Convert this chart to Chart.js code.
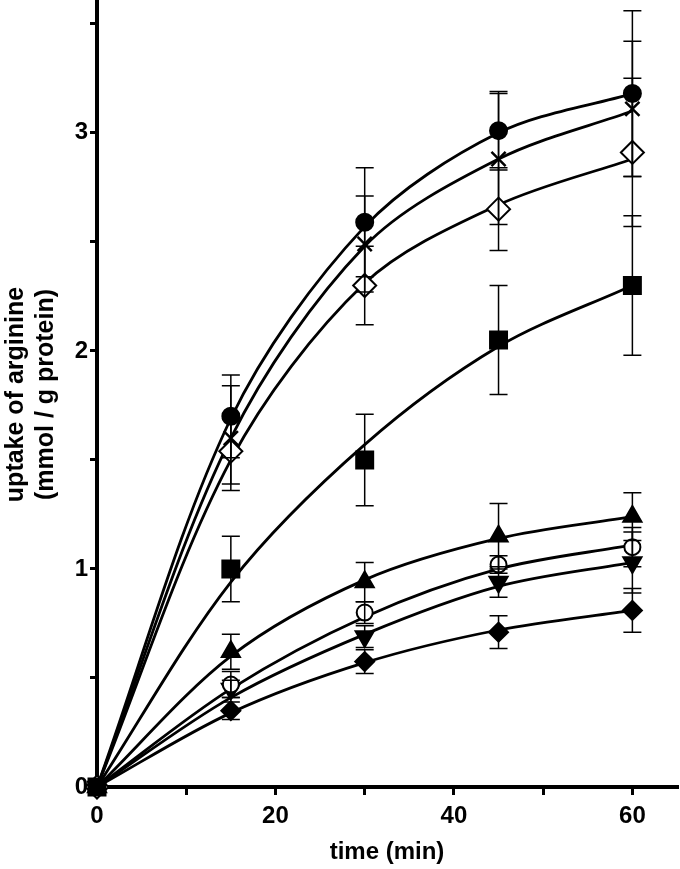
<!DOCTYPE html>
<html>
<head>
<meta charset="utf-8">
<script src="https://cdn.jsdelivr.net/npm/chart.js"></script>
<style>
  html, body { margin: 0; padding: 0; background: #fff; }
  canvas { display: block; }
</style>
</head>
<body>
<canvas id="uptakeChart" width="680" height="869"></canvas>
<script>
// time points (min)
const timeMin = [0, 15, 30, 45, 60];

const filledCircle = [0, 1.70, 2.59, 3.01, 3.18];
const filledCircleErr = [0, 0.19, 0.25, 0.18, 0.38];
const cross = [0, 1.60, 2.49, 2.88, 3.11];
const crossErr = [0, 0.24, 0.22, 0.30, 0.31];
const openDiamond = [0, 1.54, 2.30, 2.65, 2.91];
const openDiamondErr = [0, 0.15, 0.18, 0.19, 0.34];
const filledSquare = [0, 1.00, 1.50, 2.05, 2.30];
const filledSquareErr = [0, 0.15, 0.21, 0.25, 0.32];
const filledTriangle = [0, 0.62, 0.94, 1.15, 1.24];
const filledTriangleErr = [0, 0.08, 0.09, 0.15, 0.11];
const openCircle = [0, 0.47, 0.80, 1.02, 1.10];
const openCircleErr = [0, 0.06, 0.05, 0.04, 0.09];
const triangleDown = [0, 0.45, 0.69, 0.94, 1.03];
const triangleDownErr = [0, 0.04, 0.05, 0.07, 0.14];
const filledDiamond = [0, 0.35, 0.575, 0.71, 0.81];
const filledDiamondErr = [0, 0.04, 0.055, 0.075, 0.10];

// fitted curves, height of each curve read at the same time points
const filledCircleFit = [0, 1.69, 2.57, 3.00, 3.18];
const crossFit = [0, 1.60, 2.48, 2.88, 3.10];
const openDiamondFit = [0, 1.50, 2.31, 2.67, 2.88];
const filledSquareFit = [0, 0.94, 1.57, 2.02, 2.30];
const filledTriangleFit = [0, 0.60, 0.95, 1.14, 1.24];
const openCircleFit = [0, 0.45, 0.78, 1.00, 1.11];
const triangleDownFit = [0, 0.41, 0.70, 0.92, 1.03];
const filledDiamondFit = [0, 0.34, 0.57, 0.72, 0.81];

// axis ticks
const xTickLabels = [0, 20, 40, 60];
const yTickLabels = [0, 1, 2, 3];

const fontFamily = '"Liberation Sans", Arial, Helvetica, sans-serif';

function toPoints(values) {
    return values.map((v, i) => ({ x: timeMin[i], y: v }));
}

function curveSet(values) {
    return {
        data: toPoints(values),
        borderColor: '#000',
        borderWidth: 2.8,
        pointRadius: 0,
        tension: 0.32,
        fill: false,
        clip: false,
        order: 2
    };
}

function markerSet(values, errors, style, radius, fill, opts) {
    return Object.assign({
        data: toPoints(values),
        errors: errors,
        showLine: false,
        pointStyle: style,
        pointRadius: radius,
        pointBackgroundColor: fill,
        pointBorderColor: '#000',
        pointBorderWidth: 2,
        clip: false,
        order: 1
    }, opts || {});
}

const datasets = [
    curveSet(filledCircleFit),
    curveSet(crossFit),
    curveSet(openDiamondFit),
    curveSet(filledSquareFit),
    curveSet(filledTriangleFit),
    curveSet(openCircleFit),
    curveSet(triangleDownFit),
    curveSet(filledDiamondFit),
    markerSet(filledCircle, filledCircleErr, 'circle', 8.5, '#000'),
    markerSet(cross, crossErr, 'crossRot', 10, '#000', { pointBorderWidth: 2.5 }),
    markerSet(openDiamond, openDiamondErr, 'rectRot', 11.5, '#fff'),
    markerSet(filledSquare, filledSquareErr, 'rect', 12, '#000'),
    markerSet(filledTriangle, filledTriangleErr, 'triangle', 10.5, '#000'),
    markerSet(openCircle, openCircleErr, 'circle', 8, '#fff'),
    markerSet(triangleDown, triangleDownErr, 'triangle', 10.5, '#000', { pointRotation: 180 }),
    markerSet(filledDiamond, filledDiamondErr, 'rectRot', 9.5, '#000')
];

// error bars drawn over the markers
const errorBars = {
    id: 'errorBars',
    afterDatasetsDraw(chart) {
        const ctx = chart.ctx;
        const xs = chart.scales.x, ys = chart.scales.y;
        ctx.save();
        ctx.strokeStyle = '#000';
        ctx.lineWidth = 1.5;
        chart.data.datasets.forEach(ds => {
            if (!ds.errors) return;
            ds.data.forEach((p, i) => {
                const e = ds.errors[i];
                if (!e) return;
                const x = xs.getPixelForValue(p.x);
                const y1 = ys.getPixelForValue(p.y + e);
                const y2 = ys.getPixelForValue(p.y - e);
                ctx.beginPath();
                ctx.moveTo(x, y1); ctx.lineTo(x, y2);
                ctx.moveTo(x - 9, y1); ctx.lineTo(x + 9, y1);
                ctx.moveTo(x - 9, y2); ctx.lineTo(x + 9, y2);
                ctx.stroke();
            });
        });
        ctx.restore();
    }
};

const ctx = document.getElementById('uptakeChart').getContext('2d');
const uptakeChart = new Chart(ctx, {
    type: 'line',
    data: { datasets: datasets },
    plugins: [errorBars],
    options: {
        responsive: false,
        animation: false,
        layout: { autoPadding: false, padding: { top: 2, right: 3, left: 0, bottom: 0 } },
        plugins: { legend: { display: false }, tooltip: { enabled: false } },
        scales: {
            x: {
                type: 'linear',
                min: 0,
                max: 65,
                afterFit: s => { s.height = 82; s.paddingLeft = 0; s.paddingRight = 0; },
                ticks: {
                    stepSize: 10,
                    includeBounds: false,
                    autoSkip: false,
                    maxRotation: 0,
                    padding: 7,
                    color: '#000',
                    font: { family: fontFamily, size: 24, weight: 'bold' },
                    callback: v => xTickLabels.includes(v) ? String(v) : ''
                },
                grid: { drawOnChartArea: false, drawTicks: true, tickLength: 8, lineWidth: 3, color: '#000' },
                border: { display: true, width: 4, color: '#000' },
                title: {
                    display: true,
                    text: 'time (min)',
                    color: '#000',
                    padding: { top: 2, bottom: 2 },
                    font: { family: fontFamily, size: 24, weight: 'bold' }
                }
            },
            y: {
                type: 'linear',
                min: 0,
                max: 3.6,
                afterFit: s => { s.width = 97; s.paddingTop = 0; s.paddingBottom = 0; },
                ticks: {
                    stepSize: 0.5,
                    includeBounds: false,
                    autoSkip: false,
                    padding: 2,
                    color: '#000',
                    font: { family: fontFamily, size: 24, weight: 'bold' },
                    callback: v => yTickLabels.includes(v) ? String(v) : ''
                },
                grid: { drawOnChartArea: false, drawTicks: true, tickLength: 7, lineWidth: 3, color: '#000' },
                border: { display: true, width: 4, color: '#000' },
                title: {
                    display: true,
                    text: ['uptake of arginine', '(mmol / g protein)'],
                    color: '#000',
                    padding: { top: 1, bottom: 2 },
                    font: { family: fontFamily, size: 25, weight: 'bold', lineHeight: 1.2 }
                }
            }
        }
    }
});
</script>
</body>
</html>
